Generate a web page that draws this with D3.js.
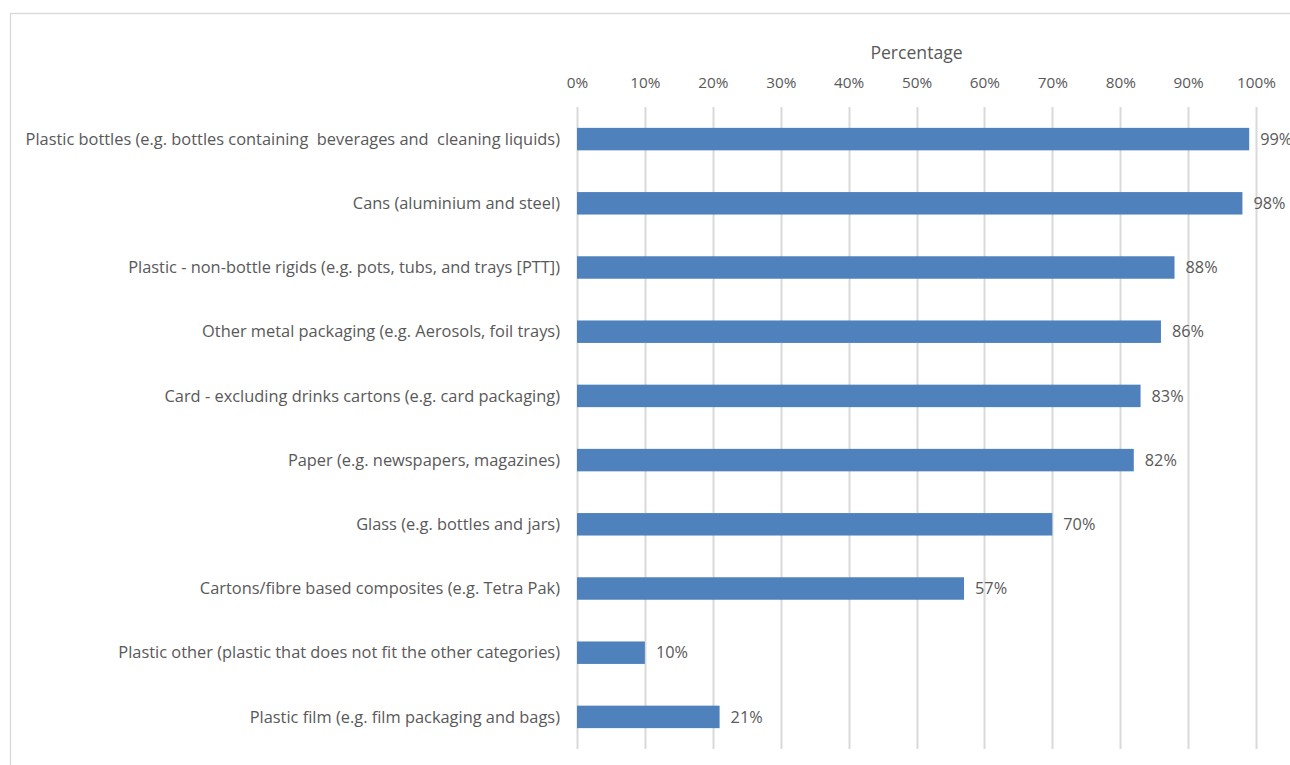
<!DOCTYPE html>
<html><head><meta charset="utf-8">
<script src="https://cdn.jsdelivr.net/npm/d3@7"></script>
<style>
html,body{margin:0;padding:0;background:#fff;}
text{font-family:"Open Sans",Lato,sans-serif;fill:#595959;white-space:pre;}
</style></head>
<body><svg id="chart" width="1290" height="765"></svg>
<script>
const categories = [
  "Plastic bottles (e.g. bottles containing  beverages and  cleaning liquids)",
  "Cans (aluminium and steel)",
  "Plastic - non-bottle rigids (e.g. pots, tubs, and trays [PTT])",
  "Other metal packaging (e.g. Aerosols, foil trays)",
  "Card - excluding drinks cartons (e.g. card packaging)",
  "Paper (e.g. newspapers, magazines)",
  "Glass (e.g. bottles and jars)",
  "Cartons/fibre based composites (e.g. Tetra Pak)",
  "Plastic other (plastic that does not fit the other categories)",
  "Plastic film (e.g. film packaging and bags)"
];
const values = [99, 98, 88, 86, 83, 82, 70, 57, 10, 21];
const tickValues = [0,10,20,30,40,50,60,70,80,90,100];
const axisTitle = "Percentage";

const svg = d3.select("#chart");
svg.append("rect").attr("x",10.5).attr("y",13.5).attr("width",1400).attr("height",900)
  .attr("fill","#fff").attr("stroke","#d9d9d9").attr("stroke-width",1.3);

const pLeft = 577, pRight = 1256, pTop = 107, pBottom = 749;
const x = d3.scaleLinear().domain([0,100]).range([pLeft,pRight]);
const y = d3.scaleBand().domain(categories).range([pTop,pBottom]).paddingInner(0.65).paddingOuter(0.325);

// gridlines
svg.append("g").selectAll("line").data(tickValues).join("line")
  .attr("x1",d=>Math.round(x(d))+0.5).attr("x2",d=>Math.round(x(d))+0.5)
  .attr("y1",pTop).attr("y2",pBottom)
  .attr("stroke","#d9d9d9").attr("stroke-width",2);

// top axis
const ax = svg.append("g").attr("transform",`translate(0,${pTop-16})`)
  .call(d3.axisTop(x).tickValues(tickValues).tickFormat(d=>d+"%").tickSize(0));
ax.select(".domain").remove();
ax.selectAll("text").attr("font-size",15.3).attr("fill","#595959").style("font-family","'Open Sans'");

svg.append("text").attr("x",(pLeft+pRight)/2).attr("y",59).attr("text-anchor","middle")
  .attr("font-size",17.6).text(axisTitle);

// bars
svg.append("g").selectAll("rect").data(values).join("rect")
  .attr("x",pLeft).attr("y",(d,i)=>y(categories[i]))
  .attr("width",d=>x(d)-pLeft).attr("height",y.bandwidth())
  .attr("fill","#4f81bd");

// value labels
svg.append("g").selectAll("text").data(values).join("text")
  .attr("x",d=>x(d)+11).attr("y",(d,i)=>y(categories[i])+y.bandwidth()/2)
  .attr("dy","0.35em").attr("font-size",16.3).text(d=>d+"%");

// category labels
svg.append("g").selectAll("text").data(categories).join("text")
  .attr("x",560).attr("y",d=>y(d)+y.bandwidth()/2)
  .attr("dy","0.35em").attr("text-anchor","end").attr("font-size",16.4).text(d=>d);
</script></body></html>
